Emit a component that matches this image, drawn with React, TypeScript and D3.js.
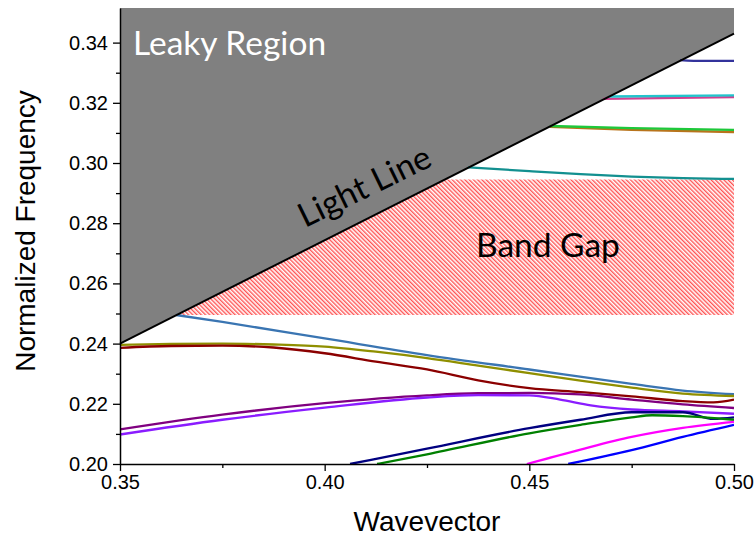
import { useEffect, useRef } from 'react';
import * as d3 from 'd3';

// Band structure values (wavevector, normalized frequency)
type Pt = [number, number];

// bands below the gap
const steelBlueBand: Pt[] = [[0.3637, 0.2495], [0.375, 0.2472], [0.40, 0.2417], [0.425, 0.2362], [0.45, 0.2314], [0.475, 0.2266], [0.4875, 0.2244], [0.50, 0.2232]];
const oliveBand: Pt[] = [[0.35, 0.2396], [0.3625, 0.2399], [0.375, 0.2400], [0.3875, 0.2397], [0.40, 0.2390], [0.4125, 0.2373], [0.425, 0.2352], [0.4375, 0.2327], [0.45, 0.2302], [0.4625, 0.2277], [0.475, 0.2254], [0.4875, 0.2234], [0.50, 0.2226]];
const wineBand: Pt[] = [[0.35, 0.2386], [0.3625, 0.2392], [0.375, 0.2393], [0.3875, 0.2387], [0.40, 0.2368], [0.4125, 0.2340], [0.425, 0.2314], [0.4375, 0.2278], [0.45, 0.2252], [0.4625, 0.2239], [0.475, 0.2225], [0.4875, 0.2209], [0.495, 0.2205], [0.50, 0.2214]];
const purpleBand: Pt[] = [[0.35, 0.2115], [0.375, 0.2164], [0.40, 0.2202], [0.425, 0.2228], [0.4375, 0.2235], [0.45, 0.2236], [0.4625, 0.2231], [0.475, 0.2214], [0.4875, 0.2198], [0.50, 0.2186]];
const violetBand: Pt[] = [[0.35, 0.2098], [0.375, 0.2147], [0.40, 0.2187], [0.425, 0.2221], [0.4375, 0.2229], [0.45, 0.2228], [0.4575, 0.2214], [0.465, 0.2195], [0.475, 0.2181], [0.4875, 0.2175], [0.50, 0.2167]];
const navyBand: Pt[] = [[0.4062, 0.2000], [0.425, 0.2051], [0.45, 0.2119], [0.4625, 0.2147], [0.475, 0.2172], [0.4875, 0.2172], [0.495, 0.2150], [0.50, 0.2155]];
const greenBand: Pt[] = [[0.4128, 0.2000], [0.425, 0.2032], [0.45, 0.2102], [0.4625, 0.2130], [0.475, 0.2155], [0.48, 0.2162], [0.4875, 0.2159], [0.50, 0.2147]];
const magentaBand: Pt[] = [[0.4494, 0.2000], [0.4625, 0.2048], [0.475, 0.2090], [0.4875, 0.2120], [0.50, 0.2140]];
const blueBand: Pt[] = [[0.4595, 0.2000], [0.475, 0.2046], [0.4875, 0.2090], [0.50, 0.2130]];

// bands above the gap (start at the light line)
const darkCyanBand: Pt[] = [[0.435, 0.2986], [0.45, 0.2973], [0.4625, 0.2963], [0.475, 0.2955], [0.4875, 0.2950], [0.50, 0.2947]];
const orangeBand: Pt[] = [[0.455, 0.3120], [0.475, 0.3110], [0.50, 0.3103]];
const brightGreenBand: Pt[] = [[0.455, 0.3123], [0.475, 0.3116], [0.50, 0.3110]];
const pinkBand: Pt[] = [[0.468, 0.3213], [0.50, 0.3219]];
const cyanBand: Pt[] = [[0.4695, 0.3221], [0.50, 0.3225]];
const royalBand: Pt[] = [[0.4868, 0.3342], [0.4925, 0.3339], [0.50, 0.3339]];

const bands: { pts: Pt[]; color: string }[] = [
  { pts: steelBlueBand, color: '#3a75b2' },
  { pts: oliveBand, color: '#8f8f00' },
  { pts: wineBand, color: '#8b0000' },
  { pts: purpleBand, color: '#800080' },
  { pts: violetBand, color: '#8a1cff' },
  { pts: navyBand, color: '#000080' },
  { pts: greenBand, color: '#008000' },
  { pts: magentaBand, color: '#ff00ff' },
  { pts: blueBand, color: '#0000ff' },
  { pts: darkCyanBand, color: '#139090' },
  { pts: orangeBand, color: '#b8741c' },
  { pts: brightGreenBand, color: '#1ec83a' },
  { pts: pinkBand, color: '#d04090' },
  { pts: cyanBand, color: '#22c4cc' },
  { pts: royalBand, color: '#33339c' },
];

// light line endpoints and band gap edges
const lightLineK = [0.35, 0.50];
const lightLineF = [0.240, 0.343];
const gapLow = 0.2495;
const gapHigh = 0.2945;

const xTicks = [0.35, 0.40, 0.45, 0.50];
const xMinor = [0.375, 0.425, 0.475];
const yTicks = [0.20, 0.22, 0.24, 0.26, 0.28, 0.30, 0.32, 0.34];
const yMinor = [0.21, 0.23, 0.25, 0.27, 0.29, 0.31, 0.33];

const W = 756;
const H = 544;
const left = 120, right = 734, top = 8, bottom = 464;

export default function App() {
  const axRef = useRef<SVGGElement | null>(null);

  const x = d3.scaleLinear().domain([0.35, 0.50]).range([left, right]);
  const y = d3.scaleLinear().domain([0.20, 0.3515]).range([bottom, top]);

  // wavevector where the light line reaches a given frequency
  const kOnLight = d3.scaleLinear().domain(lightLineF).range(lightLineK);

  const line = d3.line<Pt>().x(d => x(d[0])).y(d => y(d[1])).curve(d3.curveMonotoneX);

  const grayPath = `M${x(lightLineK[0])},${y(lightLineF[0])}L${x(lightLineK[1])},${y(lightLineF[1])}L${right},${top}L${left},${top}Z`;
  const gapPath = `M${x(kOnLight(gapLow))},${y(gapLow)}L${x(0.5)},${y(gapLow)}L${x(0.5)},${y(gapHigh)}L${x(kOnLight(gapHigh))},${y(gapHigh)}Z`;

  useEffect(() => {
    const g = d3.select(axRef.current);
    g.selectAll('*').remove();

    // bottom axis
    g.append('g')
      .attr('transform', `translate(0,${bottom})`)
      .call(d3.axisBottom(x).tickValues(xMinor).tickSize(4).tickSizeOuter(0).tickFormat(() => ''))
      .call(a => a.select('.domain').remove());
    g.append('g')
      .attr('transform', `translate(0,${bottom})`)
      .call(d3.axisBottom(x).tickValues(xTicks).tickSize(7).tickSizeOuter(0).tickPadding(4).tickFormat(d3.format('.2f')))
      .call(a => a.select('.domain').attr('stroke-width', 1.5));

    // left axis
    g.append('g')
      .attr('transform', `translate(${left},0)`)
      .call(d3.axisLeft(y).tickValues(yMinor).tickSize(4).tickSizeOuter(0).tickFormat(() => ''))
      .call(a => a.select('.domain').remove());
    g.append('g')
      .attr('transform', `translate(${left},0)`)
      .call(d3.axisLeft(y).tickValues(yTicks).tickSize(7).tickSizeOuter(0).tickPadding(5).tickFormat(d3.format('.2f')))
      .call(a => a.select('.domain').attr('stroke-width', 1.5));

    g.selectAll('.tick line').attr('stroke', '#000').attr('stroke-width', 1.3);
    g.selectAll('.tick text')
      .attr('fill', '#000')
      .style('font-family', '"Liberation Sans", Arial, sans-serif')
      .style('font-size', '20px');
  }, []);

  return (
    <div style={{ position: 'absolute', left: 0, top: 0 }}>
      <svg width={W} height={H} style={{ display: 'block', background: '#fff' }}>
        <defs>
          <pattern id="hatch" width="3" height="3" patternUnits="userSpaceOnUse" patternTransform="rotate(-45)">
            <rect width="3" height="3" fill="#fff" />
            <line x1="0.75" y1="0" x2="0.75" y2="3" stroke="#ff3030" strokeWidth="1.15" />
          </pattern>
          <clipPath id="plot">
            <rect x={left} y={top} width={right - left} height={bottom - top} />
          </clipPath>
        </defs>

        <path d={gapPath} fill="url(#hatch)" />
        <path d={grayPath} fill="#808080" />

        <g clipPath="url(#plot)" fill="none">
          {bands.map((b, i) => (
            <path key={i} d={line(b.pts) || ''} stroke={b.color} strokeWidth={2.3} />
          ))}
        </g>

        <line x1={x(lightLineK[0])} y1={y(lightLineF[0])} x2={x(lightLineK[1])} y2={y(lightLineF[1])} stroke="#000" strokeWidth={2} />

        <g style={{ fontFamily: 'Lato, "Open Sans", sans-serif', fontSize: '33.5px' }}>
          <text x={133} y={55} fill="#fff">Leaky Region</text>
          <text transform="translate(305,228) rotate(-26)" fill="#000">Light Line</text>
          <text x={476} y={257} fill="#000">Band Gap</text>
        </g>

        <g ref={axRef} />

        <g style={{ fontFamily: '"Liberation Sans", Arial, sans-serif', fontSize: '28px' }} fill="#000">
          <text x={(left + right) / 2} y={531} textAnchor="middle">Wavevector</text>
          <text transform="translate(35,231) rotate(-90)" textAnchor="middle">Normalized Frequency</text>
        </g>
      </svg>
    </div>
  );
}
